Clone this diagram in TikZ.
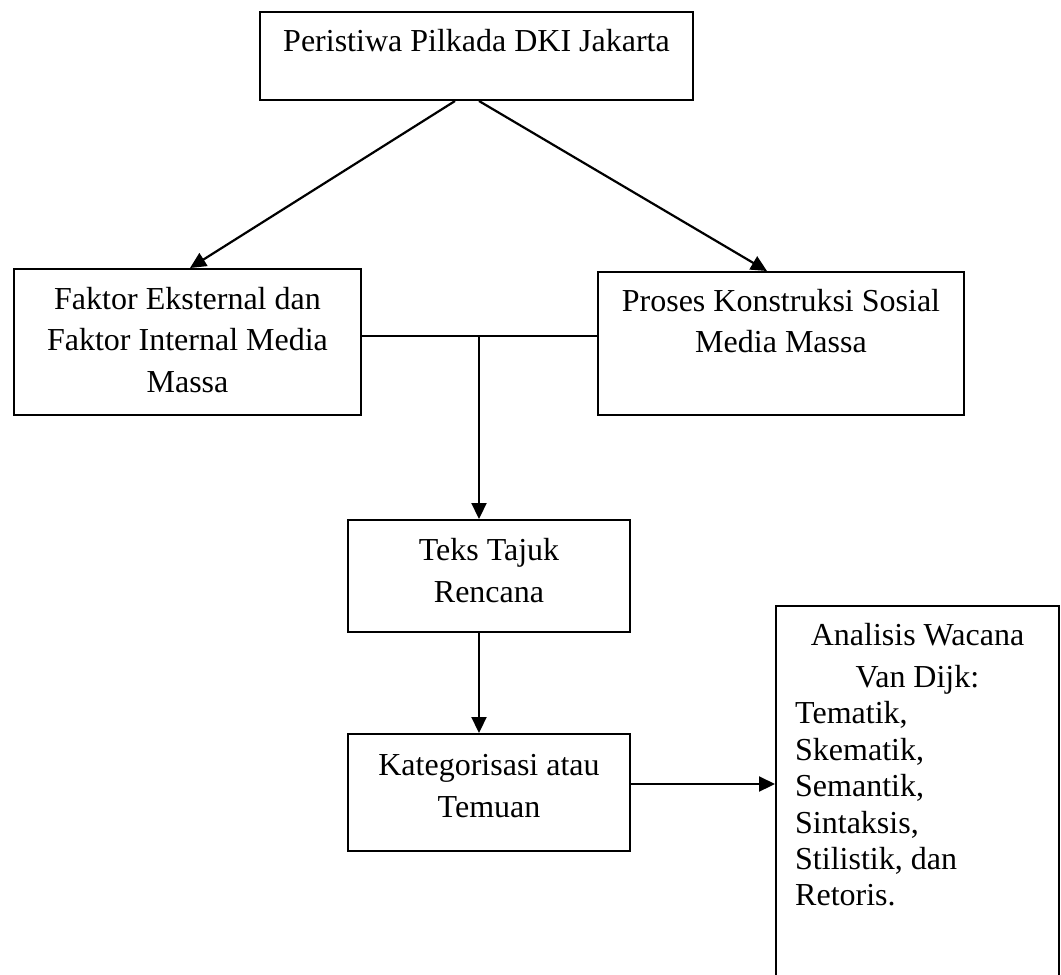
\documentclass[tikz,border=0pt]{standalone}
\usepackage{fontspec}
\setmainfont{Liberation Serif}
\usetikzlibrary{arrows.meta,calc}
\tikzset{
  box/.style={draw=black, line width=2pt, inner sep=0pt, anchor=north west, fill=none},
  txt/.style={anchor=base, inner sep=0pt, font=\fontsize{32}{42}\selectfont},
  ltxt/.style={anchor=base west, inner sep=0pt, font=\fontsize{32}{42}\selectfont},
  conn/.style={line width=2.2pt, draw=black},
  arr/.style={conn, -{Triangle[length=16pt,width=15pt]}}
}
\begin{document}
\begin{tikzpicture}[x=1pt,y=-1pt]
\useasboundingbox[fill=white] (0,0) rectangle (1061,975);
% boxes
\node[box, minimum width=433pt, minimum height=88pt] (top) at (259,11) {};
\node[box, minimum width=347pt, minimum height=146pt] (left) at (13,268) {};
\node[box, minimum width=366pt, minimum height=143pt] (right) at (597,271) {};
\node[box, minimum width=282pt, minimum height=112pt] (mid) at (347,519) {};
\node[box, minimum width=282pt, minimum height=117pt] (kat) at (347,733) {};
\node[box, minimum width=283pt, minimum height=380pt] (ana) at (775,605) {};
% texts
\node[txt] (t1) at (top.center |- 0,51) {Peristiwa Pilkada DKI Jakarta};
\node[txt] (l1) at (left.center |- 0,309) {Faktor Eksternal dan};
\node[txt] (l2) at (left.center |- 0,350) {Faktor Internal Media};
\node[txt] (l3) at (left.center |- 0,392) {Massa};
\node[txt] (r1) at (right.center |- 0,311) {Proses Konstruksi Sosial};
\node[txt] (r2) at (right.center |- 0,352) {Media Massa};
\node[txt] (m1) at (mid.center |- 0,560) {Teks Tajuk};
\node[txt] (m2) at (mid.center |- 0,602) {Rencana};
\node[txt] (k1) at (kat.center |- 0,775) {Kategorisasi atau};
\node[txt] (k2) at (kat.center |- 0,817) {Temuan};
\node[txt] (a1) at (ana.center |- 0,645) {Analisis Wacana};
\node[txt] (a2) at (ana.center |- 0,687) {Van Dijk:};
\node[ltxt] (a3) at (795,723) {Tematik,};
\node[ltxt] (a4) at (795,760) {Skematik,};
\node[ltxt] (a5) at (795,796) {Semantik,};
\node[ltxt] (a6) at (795,833) {Sintaksis,};
\node[ltxt] (a7) at (795,869) {Stilistik, dan};
\node[ltxt] (a8) at (795,905) {Retoris.};
% connectors
\coordinate (j) at (479,336);
\coordinate (k) at (700,784);
\draw[arr] (top.south -| 455,0) -- (left.north -| 190,0);
\draw[arr] (top.south -| 479,0) -- (right.north -| 767,0);
\draw[conn] (left.east |- j) -- (right.west |- j);
\draw[arr] (j) -- (mid.north -| j);
\draw[arr] (mid.south -| j) -- (kat.north -| j);
\draw[arr] (kat.east |- k) -- (ana.west |- k);
\end{tikzpicture}
\end{document}
